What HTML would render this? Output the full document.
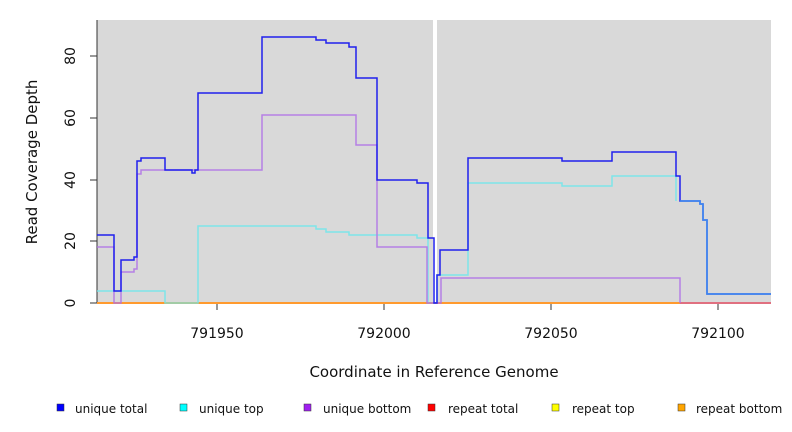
<!DOCTYPE html>
<html><head><style>body{margin:0;background:#fff}svg{display:block}</style></head><body>
<svg width="792" height="432" xmlns="http://www.w3.org/2000/svg" font-family="DejaVu Sans, Liberation Sans, sans-serif">
<rect x="97" y="20" width="674" height="283" fill="#d9d9d9"/>
<rect x="433" y="20" width="4" height="284" fill="#fff"/>
<line x1="97" y1="20" x2="97" y2="303" stroke="#333" stroke-width="1"/>
<g stroke="#333" stroke-width="1">
<line x1="90" y1="303" x2="97" y2="303"/><line x1="90" y1="241" x2="97" y2="241"/><line x1="90" y1="180" x2="97" y2="180"/><line x1="90" y1="118" x2="97" y2="118"/><line x1="90" y1="56" x2="97" y2="56"/>
<line x1="217" y1="303" x2="217" y2="310"/><line x1="384" y1="303" x2="384" y2="310"/><line x1="551" y1="303" x2="551" y2="310"/><line x1="718" y1="303" x2="718" y2="310"/>
</g>
<g font-size="14" fill="#111" text-anchor="middle">
<text transform="translate(75,303) rotate(-90)">0</text>
<text transform="translate(75,241) rotate(-90)">20</text>
<text transform="translate(75,180) rotate(-90)">40</text>
<text transform="translate(75,118) rotate(-90)">60</text>
<text transform="translate(75,56) rotate(-90)">80</text>
<text x="217" y="338">791950</text><text x="384" y="338">792000</text><text x="551" y="338">792050</text><text x="718" y="338">792100</text>
<text x="434" y="377" font-size="15">Coordinate in Reference Genome</text>
<text transform="translate(37,162) rotate(-90)" font-size="15">Read Coverage Depth</text>
</g>
<line x1="97" y1="303" x2="771" y2="303" stroke="#ff9a2e" stroke-width="2"/>
<line x1="680" y1="303" x2="771" y2="303" stroke="#e07080" stroke-width="2"/>
<g fill="none" stroke-width="1.5" opacity="0.85">
<polyline stroke="#6fe8ec" points="97,291 165,291 165,303 198,303 198,226 316,226 316,229 326,229 326,232 349,232 349,235 417,235 417,238 428,238 428,303 437,303 437,275 468,275 468,183 562,183 562,186 612,186 612,176 676,176 676,201"/>
<polyline stroke="#b070e8" points="97,247 114,247 114,303 121,303 121,272 134,272 134,269 137,269 137,174 141,174 141,170 262,170 262,115 356,115 356,145 377,145 377,247 427,247 427,303 441,303 441,278 680,278 680,303"/>
</g>
<polyline fill="none" stroke="#2020ee" stroke-width="1.5" points="97,235 114,235 114,291 121,291 121,260 134,260 134,257 137,257 137,161 141,161 141,158 165,158 165,170 192,170 192,173 195,173 195,170 198,170 198,93 262,93 262,37 316,37 316,40 326,40 326,43 349,43 349,47 356,47 356,78 377,78 377,180 417,180 417,183 428,183 428,238 434,238 434,303 437,303 437,275 440,275 440,250 468,250 468,158 562,158 562,161 612,161 612,152 676,152 676,176 680,176 680,201 700,201 700,204 703,204 703,220 707,220 707,294 771,294"/>
<polyline fill="none" stroke="#3c8cf0" stroke-width="1.5" points="680,201 700,201 700,204 703,204 703,220 707,220 707,294 771,294"/>
<g font-size="12" fill="#111">
<rect x="57" y="404" width="7" height="7" fill="#0000ff" stroke="#333" stroke-width="0.5"/><text x="75" y="413">unique total</text>
<rect x="180" y="404" width="7" height="7" fill="#00ffff" stroke="#333" stroke-width="0.5"/><text x="199" y="413">unique top</text>
<rect x="304" y="404" width="7" height="7" fill="#a020f0" stroke="#333" stroke-width="0.5"/><text x="323" y="413">unique bottom</text>
<rect x="428" y="404" width="7" height="7" fill="#ff0000" stroke="#333" stroke-width="0.5"/><text x="448" y="413">repeat total</text>
<rect x="552" y="404" width="7" height="7" fill="#ffff00" stroke="#333" stroke-width="0.5"/><text x="572" y="413">repeat top</text>
<rect x="678" y="404" width="7" height="7" fill="#ffa500" stroke="#333" stroke-width="0.5"/><text x="696" y="413">repeat bottom</text>
</g>
</svg>
</body></html>
